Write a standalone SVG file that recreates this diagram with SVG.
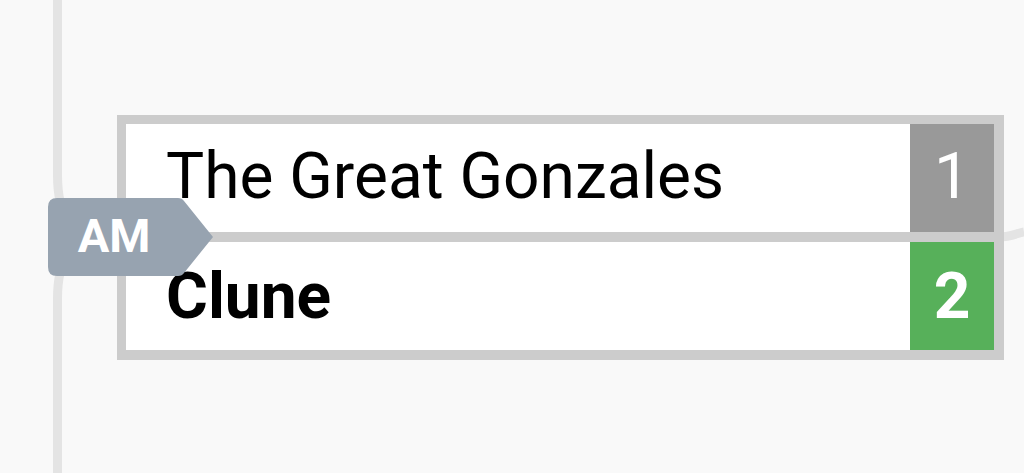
<svg xmlns="http://www.w3.org/2000/svg" width="1024" height="473" viewBox="0 0 1024 473">
<style>
.conn{fill:none;stroke:#e4e4e4;stroke-width:9}
.name{font-family:Roboto,"Liberation Sans",sans-serif;font-size:64px;fill:#000}
.score{font-family:Roboto,"Liberation Sans",sans-serif;font-size:64px;fill:#fff;text-anchor:middle}
.badge{font-family:Roboto,"Liberation Sans",sans-serif;font-size:47px;font-weight:bold;fill:#fff;text-anchor:middle}
</style>
<rect width="1024" height="473" fill="#f9f9f9"/>
<g id="connectors">
<path class="conn" d="M57.5,0 V175 C57.5,215 70,237 110,237"/>
<path class="conn" d="M57.5,473 V299 C57.5,259 70,237 110,237"/>
<path class="conn" stroke-width="6" d="M1000,237 C1010,237 1018,233 1024,232"/>
</g>
<g id="match">
<rect x="117" y="115" width="887" height="245" fill="#cccccc"/>
<rect x="126" y="124" width="784" height="108" fill="#fff"/>
<rect x="910" y="124" width="84" height="108" fill="#999999"/>
<rect x="126" y="242" width="784" height="108" fill="#fff"/>
<rect x="910" y="242" width="84" height="108" fill="#57b05a"/>
<text class="name" x="166" y="198">The Great Gonzales</text>
<text class="score" x="952" y="198">1</text>
<text class="name" x="166" y="318" font-weight="bold">Clune</text>
<text class="score" x="952" y="318" font-weight="bold">2</text>
</g>
<g id="badge">
<path d="M57,198 H178 Q182,198 184,201 L213,237 L184,273 Q182,276 178,276 H57 Q48,276 48,267 V207 Q48,198 57,198 Z" fill="#97a3b0"/>
<text class="badge" x="114" y="252">AM</text>
</g>
</svg>
